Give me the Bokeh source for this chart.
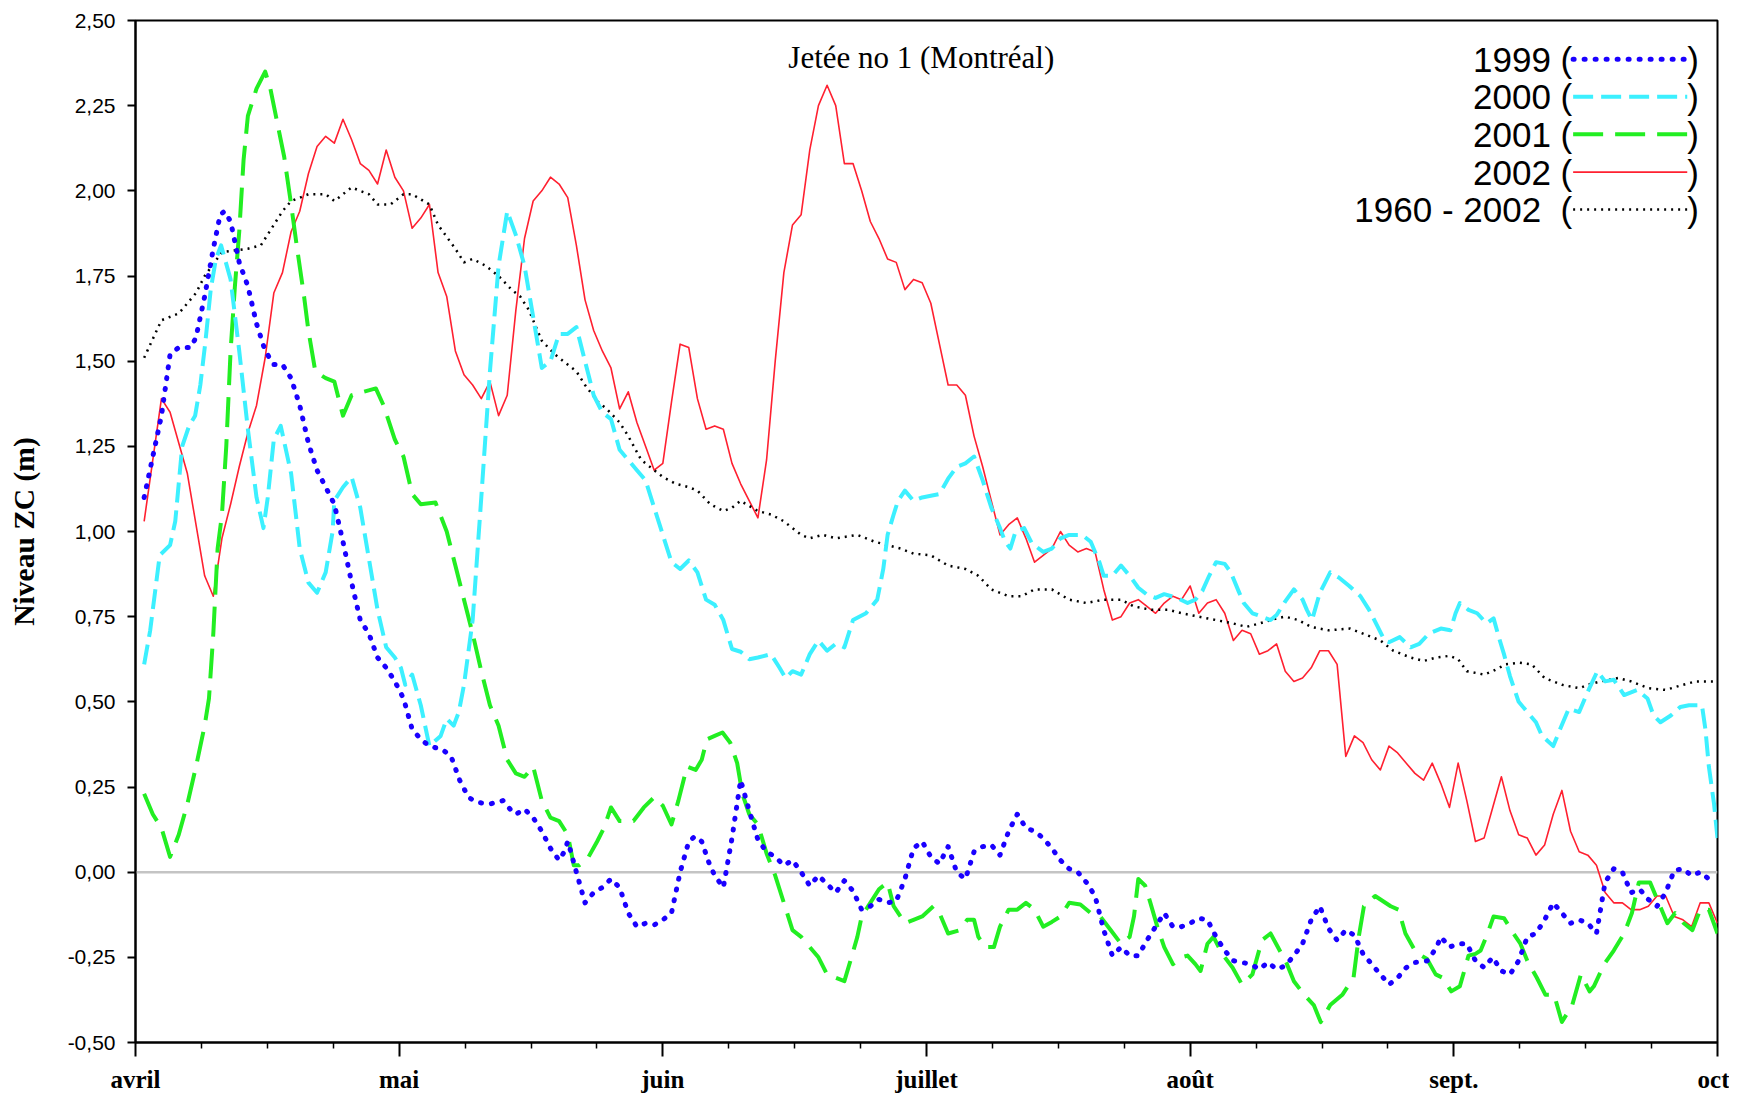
import json
from bokeh.plotting import figure
from bokeh.models import Range1d, FixedTicker, CustomJSTickFormatter, Span, Label
from bokeh.embed import file_html
from bokeh.resources import INLINE

# ---------------- data ----------------
month_labels = ["avril", "mai", "juin", "juillet", "août", "sept.", "oct"]
month_ticks = [0, 30.5, 61, 91.5, 122, 152.5, 183]   # axis positions (days since 1 April)
y_ticks = [-0.5, -0.25, 0.0, 0.25, 0.5, 0.75, 1.0, 1.25, 1.5, 1.75, 2.0, 2.25, 2.5]
title_text = "Jetée no 1 (Montréal)"
y_label = "Niveau ZC (m)"

series_names = ["1999", "2000", "2001", "2002", "1960 - 2002"]

# (day since 1 April, level in m)
s1999 = [(1,1.10),(2,1.22),(3,1.34),(4,1.52),(5,1.54),(6.4,1.54),(7,1.57),(8,1.69),(9,1.83),(9.8,1.93),(10.3,1.94),
         (11,1.91),(12,1.79),(13,1.72),(14,1.61),(15,1.53),(16,1.49),(17,1.49),(18,1.45),(19,1.37),(20,1.26),(21,1.18),
         (22,1.13),(23,1.08),(24,0.97),(25,0.85),(26,0.74),(27,0.70),(28,0.63),(29,0.60),(30,0.56),(31,0.51),(32,0.42),
         (33,0.39),(34,0.37),(35.5,0.36),(36.5,0.34),(37.5,0.27),(38.5,0.22),(39.5,0.205),(41,0.20),(42.5,0.21),(43.5,0.18),
         (44,0.17),(45,0.185),(46,0.16),(47,0.12),(48,0.07),(49,0.035),(49.6,0.06),(50,0.09),(50.3,0.065),(51,0.00),
         (52,-0.09),(53,-0.06),(54,-0.045),(55,-0.02),(56,-0.045),(57,-0.12),(58,-0.16),(59,-0.15),(60,-0.155),(61,-0.14),
         (62,-0.12),(63,0.0),(64,0.09),(64.7,0.105),(65.5,0.09),(66.3,0.03),(67,-0.01),(68,-0.045),(69,0.10),(70,0.27),
         (71,0.18),(72,0.095),(73,0.06),(74,0.045),(75,0.02),(76,0.035),(77,0.0),(78,-0.04),(79,-0.01),(80,-0.035),
         (81,-0.06),(82,-0.025),(83,-0.055),(84,-0.11),(85,-0.10),(86,-0.08),(87,-0.09),(88,-0.085),(89,-0.02),(90,0.07),
         (91,0.09),(92,0.045),(93,0.025),(94,0.075),(95,0.0),(96,-0.02),(97,0.06),(98,0.075),(99,0.08),(100,0.05),
         (101,0.12),(102,0.17),(103,0.13),(104,0.12),(105,0.10),(106,0.07),(107,0.035),(108,0.01),(109,0.0),(110,-0.03),
         (111,-0.07),(112,-0.17),(113,-0.245),(114,-0.22),(115,-0.245),(116,-0.245),(117,-0.20),(118,-0.16),(119,-0.12),
         (120,-0.16),(121,-0.16),(122,-0.15),(123,-0.135),(124,-0.14),(125,-0.19),(126,-0.23),(127,-0.26),(128,-0.265),
         (129,-0.27),(130,-0.285),(131,-0.265),(132,-0.285),(133,-0.275),(134,-0.245),(135,-0.21),(136,-0.14),(137,-0.10),
         (138,-0.165),(139,-0.20),(140,-0.17),(141,-0.185),(142,-0.24),(143,-0.27),(144,-0.30),(145,-0.33),(146,-0.31),
         (147,-0.28),(148,-0.265),(149.5,-0.26),(150.5,-0.22),(151,-0.19),(152,-0.22),(153,-0.21),(154,-0.21),(155,-0.26),
         (156,-0.28),(157,-0.25),(158,-0.29),(159,-0.30),(160,-0.26),(161,-0.19),(162,-0.18),(163,-0.14),(164,-0.09),
         (165,-0.12),(166,-0.15),(167,-0.14),(168,-0.15),(169,-0.18),(170,-0.03),(171,0.01),(172,0.0),(173,-0.06),
         (174,-0.05),(175,-0.08),(176,-0.10),(177,-0.06),(178,0.005),(179,0.01),(180,-0.01),(181,0.0),(182,-0.02)]

s2000 = [(1,0.61),(1.7,0.71),(2.8,0.93),(4,0.96),(4.6,1.03),(5.4,1.25),(6.2,1.31),(6.9,1.34),(7.5,1.43),(8.1,1.56),
         (8.7,1.71),(9.3,1.80),(9.9,1.84),(11,1.74),(12,1.53),(13,1.30),(14,1.10),(14.8,1.01),(15.3,1.10),(16,1.27),
         (16.8,1.31),(18,1.17),(19,0.95),(20,0.85),(21,0.82),(22,0.88),(22.8,1.00),(23,1.09),(24,1.13),(25,1.16),
         (26,1.07),(27,0.92),(28,0.77),(29,0.66),(30,0.63),(30.7,0.60),(31.2,0.55),(32,0.58),(33,0.49),(34,0.37),
         (35.3,0.40),(36,0.45),(36.8,0.43),(37.4,0.47),(38,0.55),(39,0.74),(40,1.10),(41,1.47),(42,1.78),(43,1.94),
         (44,1.87),(45,1.78),(46,1.63),(47,1.48),(48,1.50),(49,1.58),(50,1.58),(51,1.60),(52,1.50),(53,1.40),(54,1.35),
         (55,1.33),(56,1.24),(57,1.21),(58,1.18),(59,1.15),(60,1.07),(61,0.99),(62,0.91),(63,0.89),(64,0.915),(65,0.88),
         (66,0.80),(67,0.785),(68,0.74),(69,0.655),(70,0.647),(71,0.625),(72,0.63),(73.5,0.64),(74.5,0.60),(75.2,0.57),
         (76,0.59),(77,0.58),(78,0.64),(79,0.68),(80,0.65),(81,0.67),(82,0.66),(83,0.74),(84.5,0.76),(85.8,0.80),
         (86.5,0.89),(87,0.99),(87.7,1.05),(88.2,1.09),(89,1.12),(90,1.09),(91,1.10),(92,1.105),(93,1.11),(94,1.155),
         (95,1.19),(96,1.20),(97,1.22),(98,1.15),(99,1.07),(100,1.01),(100.6,0.97),(101.2,0.95),(101.8,1.00),(102.8,1.01),
         (103.7,0.965),(105,0.94),(106,0.95),(107,0.98),(108,0.99),(109.5,0.99),(110.5,0.97),(111.5,0.91),(112,0.87),
         (113,0.87),(114,0.90),(115,0.87),(116,0.835),(117,0.815),(118,0.805),(119,0.816),(120.5,0.805),(121.7,0.79),
         (122.6,0.80),(123.4,0.825),(124.2,0.87),(125,0.91),(126,0.905),(126.7,0.88),(127.6,0.825),(128.2,0.79),
         (129.2,0.76),(130.3,0.75),(131.3,0.74),(132,0.755),(133,0.795),(134,0.83),(135,0.80),(135.5,0.77),(136.1,0.74),
         (137,0.82),(138.2,0.88),(139.2,0.865),(140.4,0.84),(141.7,0.81),(142.7,0.77),(143.6,0.725),(144.5,0.68),
         (145,0.675),(146.25,0.69),(147.5,0.66),(148.5,0.67),(149.6,0.70),(151,0.715),(152.1,0.71),(152.7,0.76),
         (153.2,0.79),(154.2,0.77),(155.2,0.76),(156.3,0.73),(157.1,0.745),(157.7,0.69),(158.3,0.64),(159,0.575),
         (160,0.50),(161,0.47),(162,0.44),(162.7,0.40),(164,0.37),(164.8,0.42),(165.8,0.48),(167,0.47),(168,0.53),
         (169.1,0.59),(170,0.56),(171,0.565),(172.2,0.52),(173.7,0.535),(174.9,0.51),(175.6,0.46),(176.4,0.44),
         (177.6,0.46),(178.7,0.485),(179.7,0.49),(181.2,0.49),(181.6,0.42),(182,0.31),(182.6,0.20),(183,0.10)]

s2001 = [(1,0.23),(2,0.17),(3,0.13),(4,0.045),(5,0.11),(6,0.20),(7,0.31),(8,0.43),(8.5,0.51),(9,0.70),(9.5,0.95),
         (10,1.05),(10.5,1.25),(11,1.53),(11.5,1.72),(12,1.88),(12.5,2.09),(13,2.22),(14,2.30),(15,2.35),(15.6,2.30),
         (16.4,2.20),(17.2,2.10),(18,1.96),(18.7,1.83),(19.5,1.69),(20,1.59),(20.8,1.47),(22,1.45),(23,1.44),(24,1.34),
         (25,1.40),(27.8,1.42),(28.7,1.37),(30,1.27),(31,1.22),(32,1.11),(33,1.08),(34.7,1.085),(36,1.00),(37,0.90),
         (38,0.80),(39,0.70),(40,0.59),(41,0.49),(42,0.43),(43,0.33),(44,0.29),(45,0.28),(46,0.31),(47,0.21),(48,0.16),
         (49,0.15),(50,0.11),(50.7,0.02),(51.3,0.02),(52.3,0.04),(53.4,0.09),(54.2,0.13),(55,0.19),(56,0.15),(57.6,0.15),
         (58.8,0.19),(60,0.22),(61,0.195),(62,0.14),(62.8,0.21),(63.8,0.31),(64.8,0.30),(65.5,0.33),(66.1,0.39),
         (67,0.40),(67.9,0.41),(68.8,0.38),(69.6,0.32),(70.2,0.23),(71,0.17),(72,0.14),(73,0.055),(74,-0.01),(75,-0.09),
         (76,-0.17),(77,-0.19),(78,-0.22),(79,-0.25),(80,-0.30),(81,-0.31),(82,-0.32),(82.7,-0.26),(83.5,-0.19),
         (84,-0.13),(85,-0.09),(86,-0.05),(87,-0.03),(87.7,-0.10),(88.5,-0.13),(89,-0.15),(90,-0.14),(91,-0.13),
         (92.3,-0.10),(93,-0.12),(94,-0.18),(95.4,-0.17),(96.2,-0.14),(97,-0.14),(97.5,-0.19),(98.3,-0.22),(99.3,-0.22),
         (100,-0.16),(101,-0.11),(102,-0.11),(103,-0.09),(104,-0.11),(105,-0.16),(106,-0.146),(107,-0.13),(108,-0.09),
         (109.3,-0.095),(110.5,-0.12),(111.6,-0.13),(112.8,-0.17),(114,-0.21),(115,-0.19),(115.5,-0.13),(116,-0.02),
         (116.8,-0.04),(117.4,-0.09),(118.2,-0.16),(119,-0.22),(120,-0.27),(121,-0.25),(121.7,-0.245),(122.6,-0.27),
         (123.2,-0.29),(124,-0.21),(124.7,-0.19),(125.7,-0.24),(126.9,-0.28),(128,-0.33),(129.2,-0.30),(130.3,-0.20),
         (131.3,-0.18),(133.2,-0.27),(134,-0.32),(135.2,-0.36),(136.3,-0.39),(137.1,-0.44),(138.2,-0.39),(139.6,-0.36),
         (140.9,-0.31),(141.5,-0.19),(142.1,-0.10),(143.4,-0.07),(145.2,-0.10),(146.1,-0.11),(146.9,-0.18),
         (148.1,-0.235),(149.4,-0.255),(150.4,-0.30),(151.2,-0.31),(152.2,-0.35),(153.2,-0.335),(153.7,-0.29),
         (154.2,-0.245),(155,-0.24),(155.6,-0.23),(156.4,-0.18),(157.1,-0.13),(158.3,-0.135),(159.4,-0.18),(160.2,-0.21),
         (161,-0.26),(162.1,-0.31),(163.1,-0.36),(164.1,-0.36),(165,-0.44),(166.2,-0.39),(167.2,-0.30),(168.2,-0.35),
         (168.7,-0.335),(169.9,-0.27),(171,-0.23),(172.2,-0.18),(173.1,-0.12),(173.9,-0.03),(175.2,-0.03),(176.2,-0.09),
         (177.2,-0.15),(178.1,-0.12),(179.1,-0.15),(180.1,-0.17),(181,-0.11),(182,-0.11),(183,-0.18)]

s2002 = [(1,1.03),(3,1.39),(4,1.35),(6,1.17),(8,0.87),(9,0.81),(10,0.98),(11,1.08),(12,1.19),(13,1.29),(14,1.37),
         (15,1.51),(16,1.70),(17,1.76),(18,1.88),(19,1.94),(20,2.05),(21,2.13),(22,2.16),(23,2.14),(24,2.21),(25,2.15),
         (26,2.08),(27,2.06),(28,2.02),(29,2.12),(30,2.04),(31,2.00),(32,1.89),(33,1.92),(34,1.96),(35,1.76),(36,1.69),
         (37,1.53),(38,1.46),(39,1.43),(40,1.39),(41,1.44),(42,1.34),(43,1.40),(44,1.65),(45,1.86),(46,1.97),(47,2.00),
         (48,2.04),(49,2.02),(50,1.98),(51,1.84),(52,1.68),(53,1.59),(54,1.53),(55,1.48),(56,1.36),(57,1.41),(58,1.32),
         (59,1.25),(60,1.18),(61,1.20),(62,1.38),(63,1.55),(64,1.54),(65,1.39),(66,1.30),(67,1.31),(68,1.30),(69,1.20),
         (70,1.14),(71,1.09),(72,1.04),(73,1.21),(74,1.50),(75,1.76),(76,1.90),(77,1.93),(78,2.12),(79,2.25),(80,2.31),
         (81,2.25),(82,2.08),(83,2.08),(84,2.00),(85,1.91),(86,1.86),(87,1.80),(88,1.79),(89,1.71),(90,1.74),(91,1.73),
         (92,1.67),(93,1.55),(94,1.43),(95,1.43),(96,1.40),(97,1.28),(98,1.19),(99,1.09),(100,0.99),(101,1.02),
         (102,1.04),(103,0.98),(104,0.91),(105,0.93),(106,0.95),(107,1.00),(108,0.96),(109,0.94),(110,0.95),(111,0.94),
         (112,0.83),(113,0.74),(114,0.75),(115,0.79),(116,0.80),(117,0.78),(118,0.76),(119,0.79),(120,0.81),(121,0.80),
         (122,0.84),(123,0.76),(124,0.79),(125,0.80),(126,0.76),(127,0.68),(128,0.71),(129,0.70),(130,0.64),(131,0.65),
         (132,0.67),(133,0.59),(134,0.56),(135,0.57),(136,0.60),(137,0.65),(138,0.65),(139,0.61),(140,0.34),(141,0.40),
         (142,0.38),(143,0.33),(144,0.30),(145,0.37),(146,0.35),(147,0.32),(148,0.29),(149,0.27),(150,0.32),(151,0.26),
         (152,0.19),(153,0.32),(154,0.21),(155,0.09),(156,0.10),(157,0.19),(158,0.28),(159,0.18),(160,0.11),(161,0.10),
         (162,0.05),(163,0.08),(164,0.17),(165,0.24),(166,0.12),(167,0.06),(168,0.05),(169,0.02),(170,-0.06),
         (171,-0.09),(172,-0.09),(173,-0.11),(174,-0.11),(175,-0.10),(176,-0.07),(177,-0.07),(178,-0.13),(179,-0.14),
         (180,-0.16),(181,-0.09),(182,-0.09),(183,-0.15)]

s_mean = [(1,1.51),(3,1.62),(5,1.64),(7,1.70),(8,1.75),(10,1.82),(13,1.83),(14.5,1.84),(16,1.90),(17,1.94),(18,1.97),
          (20,1.99),(22,1.99),(23,1.97),(24,1.99),(25,2.01),(27,1.99),(28,1.96),(29.5,1.96),(31,1.99),(32,1.99),
          (34,1.96),(35,1.90),(37,1.83),(38,1.79),(39,1.80),(40.5,1.78),(42,1.75),(43.5,1.71),(44.5,1.69),(45.5,1.65),
          (47,1.56),(48.5,1.52),(49.5,1.50),(51,1.47),(52,1.43),(53.5,1.38),(54.5,1.36),(56,1.32),(57,1.28),(58.5,1.21),
          (60,1.18),(61,1.16),(62.5,1.14),(64,1.13),(65,1.12),(66.5,1.08),(68,1.06),(69,1.07),(70,1.09),(72,1.06),
          (73.5,1.05),(75,1.03),(77,0.99),(78,0.98),(79.5,0.99),(81,0.98),(83.5,0.99),(85.5,0.97),(87,0.96),(88.5,0.95),
          (90,0.935),(92,0.93),(94,0.90),(96,0.89),(97.5,0.87),(99,0.83),(101,0.81),(102.5,0.81),(104,0.83),(106,0.83),
          (108,0.80),(110,0.79),(112,0.80),(114,0.80),(115.5,0.78),(117.5,0.77),(119.5,0.77),(121,0.76),(123,0.75),
          (125,0.74),(127,0.73),(128.5,0.72),(130,0.73),(132,0.745),(133,0.75),(134.5,0.74),(136,0.72),(138,0.71),
          (140.5,0.715),(142,0.70),(144,0.68),(145.5,0.65),(147.5,0.63),(149,0.62),(150.5,0.63),(152,0.635),(153,0.625),
          (154,0.59),(156,0.58),(157,0.59),(158.5,0.61),(160,0.615),(161.5,0.61),(163,0.57),(165,0.55),(167,0.54),
          (168,0.55),(169.5,0.56),(171.5,0.57),(173,0.56),(175,0.54),(177,0.535),(179,0.55),(180.5,0.56),(183,0.56)]

# ---------------- styles ----------------
styles = {
    "1999": dict(line_color="#1a00ff", line_width=5, line_dash="1 10", line_cap="round"),
    "2000": dict(line_color="#3cf0ff", line_width=4, line_dash="20 8", line_cap="butt"),
    "2001": dict(line_color="#22ee22", line_width=4, line_dash="30 12", line_cap="butt"),
    "2002": dict(line_color="#ff2030", line_width=1.6, line_cap="butt"),
    "1960 - 2002": dict(line_color="#000000", line_width=2.5, line_dash="2 5", line_cap="butt"),
}
series_data = {"1999": s1999, "2000": s2000, "2001": s2001, "2002": s2002, "1960 - 2002": s_mean}
draw_order = ["2002", "1960 - 2002", "2001", "2000", "1999"]

SANS = "Liberation Sans"
SERIF = "Liberation Serif"

p = figure(width=1729, height=1095, output_backend="svg", toolbar_location=None, title=None,
           x_range=Range1d(month_ticks[0], month_ticks[-1]), y_range=Range1d(y_ticks[0], y_ticks[-1]),
           min_border_left=135, min_border_right=12, min_border_top=20, min_border_bottom=53)
p.background_fill_color = "white"
p.border_fill_color = "white"
p.outline_line_color = "black"
p.outline_line_width = 2
p.xgrid.visible = False
p.ygrid.visible = False

# zero line
p.add_layout(Span(location=0, dimension="width", line_color="#c4c4c4", line_width=2.5, level="underlay"))

for name in draw_order:
    pts = series_data[name]
    xs = [a for a, b in pts]
    ys = [b for a, b in pts]
    p.line(xs, ys, line_join="round", **styles[name])

# ---------------- axes ----------------
minor = []
for s, e in zip(month_ticks[:-1], month_ticks[1:]):
    for k in (1, 2, 3):
        minor.append(s + (e - s) * k / 4.0)
p.xaxis.ticker = FixedTicker(ticks=month_ticks, minor_ticks=minor)
lab_map = json.dumps({str(d): l for d, l in zip(month_ticks, month_labels)}, ensure_ascii=False)
p.xaxis.formatter = CustomJSTickFormatter(code="const m = %s; return (String(tick) in m) ? m[String(tick)] : '';" % lab_map)
p.xaxis.major_label_text_font = SERIF
p.xaxis.major_label_text_font_style = "bold"
p.xaxis.major_label_text_font_size = "25px"
p.xaxis.major_label_text_color = "black"
p.xaxis.major_label_standoff = 9
p.xaxis.major_tick_in = 0
p.xaxis.major_tick_out = 14
p.xaxis.minor_tick_in = 0
p.xaxis.minor_tick_out = 6
p.xaxis.major_tick_line_width = 2
p.xaxis.minor_tick_line_width = 1.5
p.xaxis.axis_line_width = 2

p.yaxis.ticker = FixedTicker(ticks=y_ticks, minor_ticks=[])
p.yaxis.formatter = CustomJSTickFormatter(code="return tick.toFixed(2).replace('.', ',');")
p.yaxis.major_label_text_font = SANS
p.yaxis.major_label_text_font_size = "21px"
p.yaxis.major_label_text_color = "black"
p.yaxis.major_label_standoff = 12
p.yaxis.major_tick_in = 0
p.yaxis.major_tick_out = 8
p.yaxis.minor_tick_line_color = None
p.yaxis.major_tick_line_width = 2
p.yaxis.axis_line_width = 2
p.yaxis.axis_label = y_label
p.yaxis.axis_label_text_font = SERIF
p.yaxis.axis_label_text_font_style = "bold"
p.yaxis.axis_label_text_font_size = "29.5px"
p.yaxis.axis_label_text_color = "black"
p.yaxis.axis_label_standoff = 25

# ---------------- title inside plot ----------------
p.add_layout(Label(x=90.9, y=2.39, text=title_text, text_align="center", text_baseline="middle",
                   text_font=SERIF, text_font_size="31px", text_color="black"))

# ---------------- legend (text, sample, closing paren) ----------------
leg_text_x = 166.2
leg_x0, leg_x1 = 166.3, 179.5
leg_rows = [2.386, 2.276, 2.166, 2.055, 1.945]
for name, yy in zip(series_names, leg_rows):
    lab = name + ("\u00a0\u00a0(" if name == "1960 - 2002" else " (")
    p.add_layout(Label(x=leg_text_x, y=yy, text=lab, text_align="right", text_baseline="middle",
                       text_font=SANS, text_font_size="35px", text_color="black"))
    p.line([leg_x0, leg_x1], [yy, yy], **styles[name])
    p.add_layout(Label(x=leg_x1, y=yy, text=")", text_align="left", text_baseline="middle",
                       text_font=SANS, text_font_size="35px", text_color="black"))

open("out.html", "w").write(file_html(p, INLINE))
